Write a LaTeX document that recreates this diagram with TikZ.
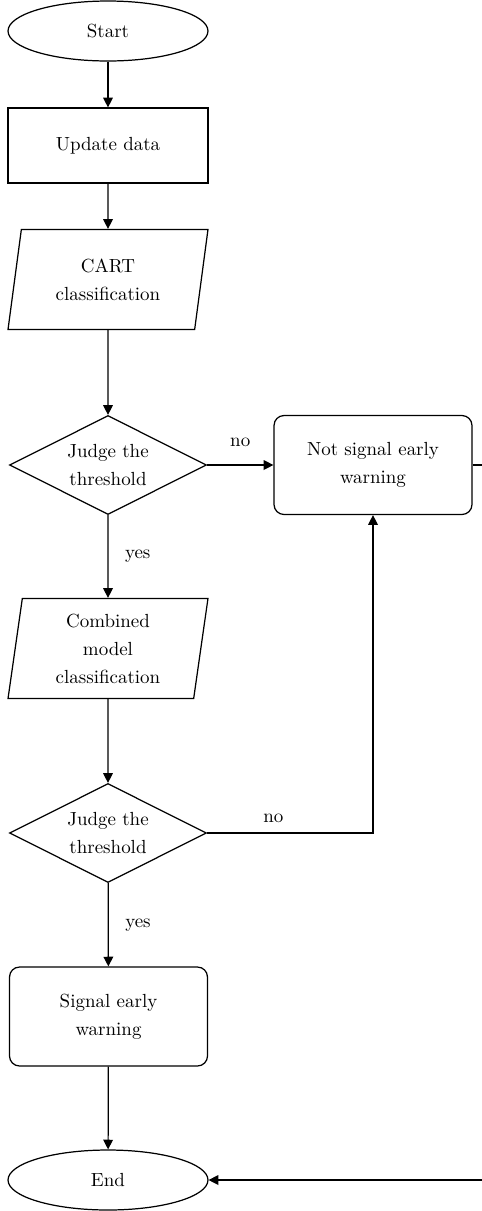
\documentclass[tikz,border=0pt]{standalone}
\usepackage{tikz}
\usetikzlibrary{shapes.geometric}
\usetikzlibrary{arrows.meta}

\begin{document}
\begin{tikzpicture}[draw=black,x=0.02cm,y=-0.02cm,line width=0.7pt,
    >={Triangle[length=5.5pt,width=5.5pt]},
    font=\fontsize{10.8}{15.9}\selectfont,
    term/.style={draw,ellipse,minimum width=4cm,minimum height=1.2cm},
    proc/.style={draw,rectangle,minimum width=4cm,minimum height=1.5cm},
    io/.style={draw,trapezium,trapezium left angle=76,trapezium right angle=104,
      trapezium stretches body,minimum width=4cm,minimum height=2cm,align=center},
    judge/.style={draw,diamond,aspect=2,inner sep=0pt,minimum width=3.94cm,
      minimum height=1.98cm,align=center},
    warn/.style={draw,rectangle,rounded corners=0.2cm,minimum width=3.96cm,
      minimum height=1.98cm,align=center}]
        \useasboundingbox (0,0) rectangle (482,1211);
        \node[term] (start) at (108,31) {Start};
        \node[proc] (update) at (108,145.5) {Update data};
        \node[io] (cart) at (108,279.5) {CART\\classification};
        \node[judge] (judge1) at (108,465) {Judge the\\threshold};
        \node[warn] (nsw) at (373,465) {Not signal early\\warning};
        \node[io,trapezium left angle=80,trapezium right angle=100] (comb) at (108,648.5)
          {Combined\\model\\classification};
        \node[judge] (judge2) at (108,833) {Judge the\\threshold};
        \node[warn] (signal) at (108.5,1016.5) {Signal early\\warning};
        \node[term] (end) at (108,1180) {End};
        \coordinate (out) at (495,465);
        % main line
        \draw[->] (start) -- (update);
        \draw[->] (update) -- (cart);
        \draw[->] (cart) -- (judge1);
        \draw[->] (judge1) -- node[right=6pt]{yes} (comb);
        \draw[->] (comb) -- (judge2);
        \draw[->] (judge2) -- node[right=6pt]{yes} (signal);
        \draw[->] (signal) -- (end);
        % no branches
        \draw[->] (judge1.east) -- node[above=7pt]{no} (nsw.west);
        \draw[->] (judge2.east) -| node[pos=.2,above=2pt]{no} (nsw.south);
        \draw[->] (nsw.east) -- (out) |- (end.east);
      \end{tikzpicture}
\end{document}
